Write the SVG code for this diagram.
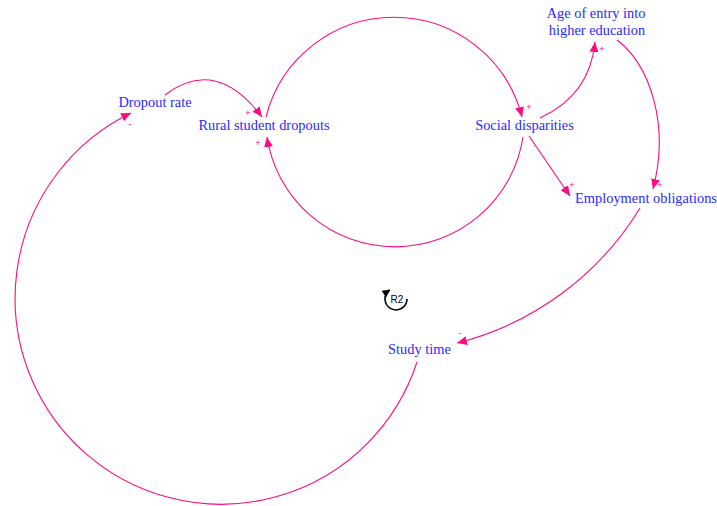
<svg xmlns="http://www.w3.org/2000/svg" width="717" height="506" viewBox="0 0 717 506">
<defs>
<marker id="ah" markerUnits="userSpaceOnUse" markerWidth="11" markerHeight="9" refX="10" refY="4.5" orient="auto">
<path d="M0,0 L10,4.5 L0,9 z" fill="#ff0a80"/>
</marker>
<marker id="bh" markerUnits="userSpaceOnUse" markerWidth="9" markerHeight="8" refX="7" refY="4" orient="auto">
<path d="M0,0 L8,4 L0,8 z" fill="#000"/>
</marker>
<style>
.lbl{font-family:"Liberation Serif","Times New Roman",serif;font-size:14.4px;fill:#2a2aff;text-anchor:middle}
.pol{font-family:"Liberation Sans",Arial,sans-serif;font-size:9px;fill:#ff0a80;text-anchor:middle}
.cn{fill:none;stroke:#ff0a80;stroke-width:1.1;marker-end:url(#ah)}
</style>
</defs>
<rect width="717" height="506" fill="#fff"/>
<g id="connectors">
<path class="cn" d="M165,95 Q216,56 262,117"/>
<path class="cn" d="M266,117 A132,132 0 0,1 522,117"/>
<path class="cn" d="M523,137 A129.5,129.5 0 0,1 267,137"/>
<path class="cn" d="M540,118 Q590,95 595,42"/>
<path class="cn" d="M617,40 C650,65 670,125 653,189"/>
<path class="cn" d="M529,136 L570,196"/>
<path class="cn" d="M640,208 A300,300 0 0,1 457,343"/>
<path class="cn" d="M417,362 A206,206 0 1,1 131,113"/>
</g>
<g id="polarities">
<text class="pol" x="248" y="116">+</text>
<text class="pol" x="258" y="146">+</text>
<text class="pol" x="130" y="127">-</text>
<text class="pol" x="529" y="110">+</text>
<text class="pol" x="602" y="52">+</text>
<text class="pol" x="572" y="188">+</text>
<text class="pol" x="660" y="188">+</text>
<text class="pol" x="460" y="336">-</text>
</g>
<g id="node-dropout-rate"><text class="lbl" x="155" y="107">Dropout rate</text></g>
<g id="node-rural-student-dropouts"><text class="lbl" x="264" y="130">Rural student dropouts</text></g>
<g id="node-social-disparities"><text class="lbl" x="524.5" y="130">Social disparities</text></g>
<g id="node-age-of-entry"><text class="lbl" x="596" y="18">Age of entry into</text><text class="lbl" x="597" y="35">higher education</text></g>
<g id="node-employment-obligations"><text class="lbl" x="646" y="203">Employment obligations</text></g>
<g id="node-study-time"><text class="lbl" x="419.5" y="354">Study time</text></g>
<g id="loop-r2">
<path d="M407,299 A11,11 0 1,1 389.5,290" fill="none" stroke="#000" stroke-width="1.6" marker-end="url(#bh)"/>
<text x="397" y="303" font-family="Liberation Sans,Arial,sans-serif" font-size="10" text-anchor="middle" fill="#000">R2</text>
</g>
</svg>
